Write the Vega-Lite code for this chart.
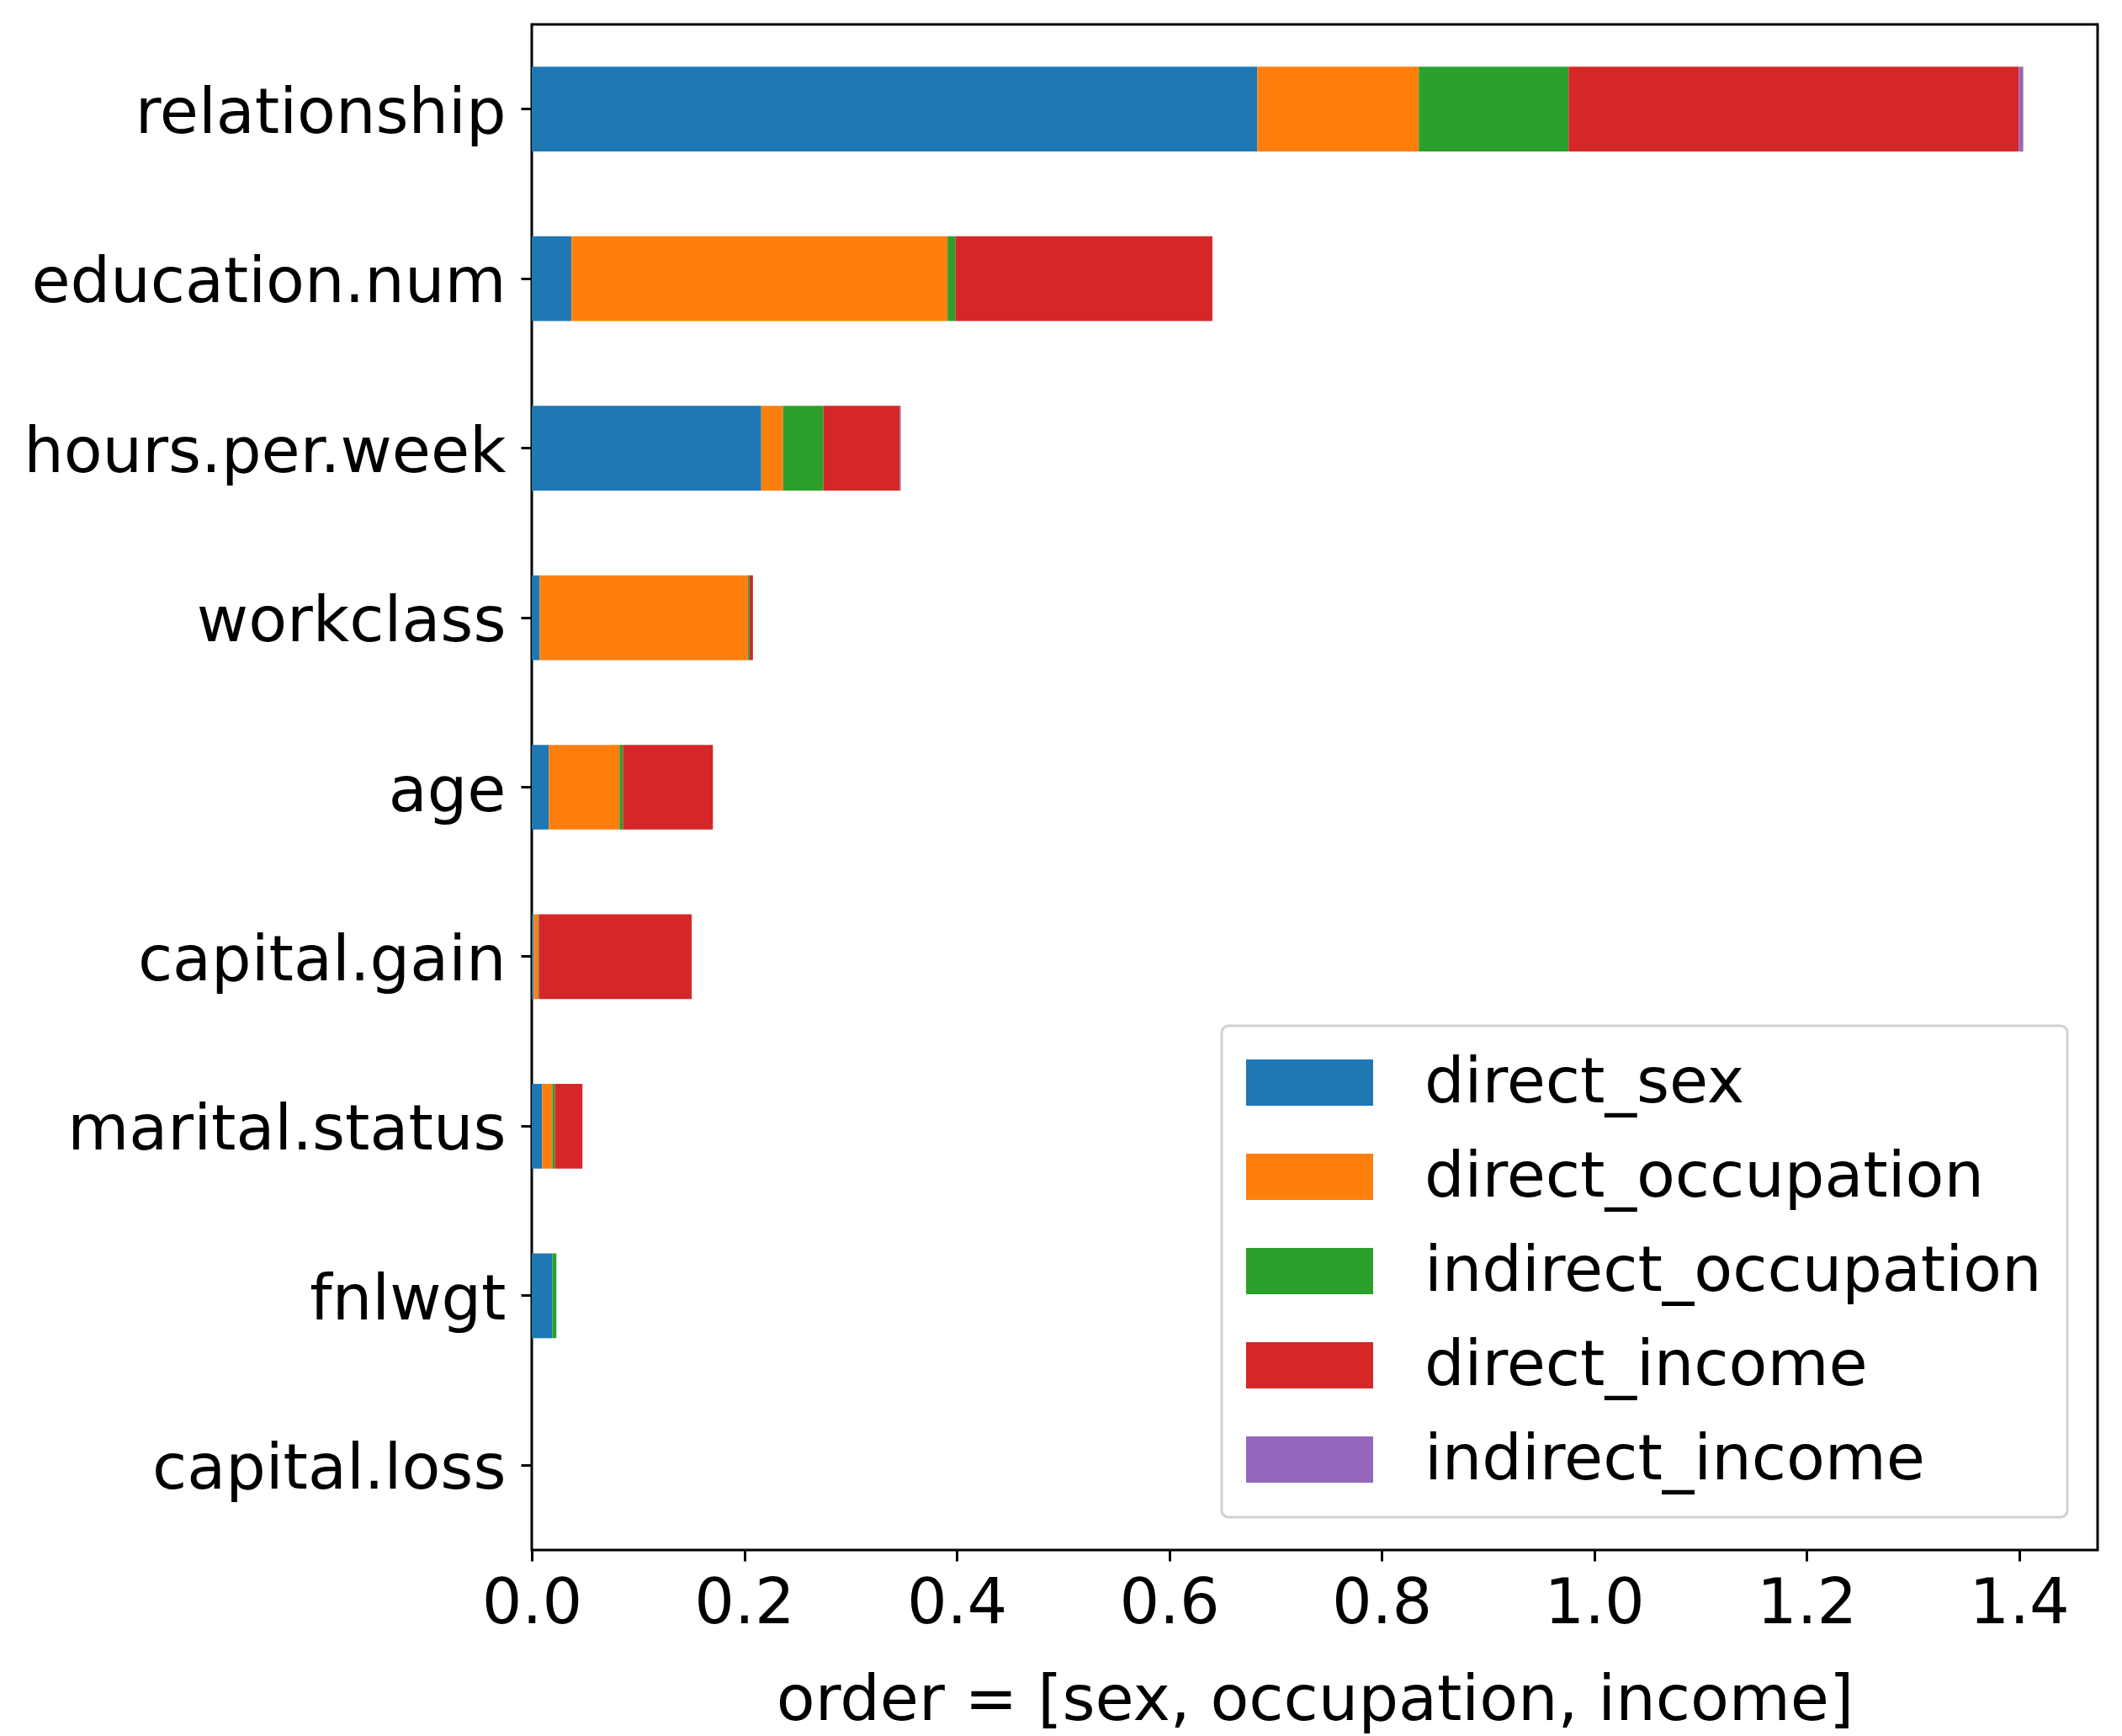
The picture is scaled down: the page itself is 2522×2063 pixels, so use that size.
{
  "$schema": "https://vega.github.io/schema/vega-lite/v6.json",
  "width": 1861,
  "height": 1813,
  "autosize": {"type": "none"},
  "padding": {"left": 632, "top": 29, "right": 29, "bottom": 221},
  "background": "white",
  "config": {
    "font": "DejaVu Sans",
    "view": {"stroke": "black", "strokeWidth": 3},
    "axis": {"grid": false, "domain": false, "tickColor": "black", "tickWidth": 3, "tickSize": 13, "labelColor": "black", "labelFontSize": 75, "labelLimit": 0, "labelFont": "DejaVu Sans", "titleFont": "DejaVu Sans", "titleFontSize": 75, "titleFontWeight": "normal", "titleColor": "black"}
  },
  "data": {"values": [
    {"feature": "relationship", "series": "direct_sex", "k": 0, "value": 0.683},
    {"feature": "relationship", "series": "direct_occupation", "k": 1, "value": 0.152},
    {"feature": "relationship", "series": "indirect_occupation", "k": 2, "value": 0.141},
    {"feature": "relationship", "series": "direct_income", "k": 3, "value": 0.424},
    {"feature": "relationship", "series": "indirect_income", "k": 4, "value": 0.004},
    {"feature": "education.num", "series": "direct_sex", "k": 0, "value": 0.0374},
    {"feature": "education.num", "series": "direct_occupation", "k": 1, "value": 0.354},
    {"feature": "education.num", "series": "indirect_occupation", "k": 2, "value": 0.0073},
    {"feature": "education.num", "series": "direct_income", "k": 3, "value": 0.242},
    {"feature": "education.num", "series": "indirect_income", "k": 4, "value": 0.0},
    {"feature": "hours.per.week", "series": "direct_sex", "k": 0, "value": 0.216},
    {"feature": "hours.per.week", "series": "direct_occupation", "k": 1, "value": 0.0206},
    {"feature": "hours.per.week", "series": "indirect_occupation", "k": 2, "value": 0.038},
    {"feature": "hours.per.week", "series": "direct_income", "k": 3, "value": 0.072},
    {"feature": "hours.per.week", "series": "indirect_income", "k": 4, "value": 0.0008},
    {"feature": "workclass", "series": "direct_sex", "k": 0, "value": 0.0074},
    {"feature": "workclass", "series": "direct_occupation", "k": 1, "value": 0.196},
    {"feature": "workclass", "series": "indirect_occupation", "k": 2, "value": 0.0016},
    {"feature": "workclass", "series": "direct_income", "k": 3, "value": 0.0032},
    {"feature": "workclass", "series": "indirect_income", "k": 4, "value": 0.0},
    {"feature": "age", "series": "direct_sex", "k": 0, "value": 0.0161},
    {"feature": "age", "series": "direct_occupation", "k": 1, "value": 0.0665},
    {"feature": "age", "series": "indirect_occupation", "k": 2, "value": 0.0032},
    {"feature": "age", "series": "direct_income", "k": 3, "value": 0.0847},
    {"feature": "age", "series": "indirect_income", "k": 4, "value": 0.0},
    {"feature": "capital.gain", "series": "direct_sex", "k": 0, "value": 0.0018},
    {"feature": "capital.gain", "series": "direct_occupation", "k": 1, "value": 0.004},
    {"feature": "capital.gain", "series": "indirect_occupation", "k": 2, "value": 0.0008},
    {"feature": "capital.gain", "series": "direct_income", "k": 3, "value": 0.144},
    {"feature": "capital.gain", "series": "indirect_income", "k": 4, "value": 0.0},
    {"feature": "marital.status", "series": "direct_sex", "k": 0, "value": 0.0098},
    {"feature": "marital.status", "series": "direct_occupation", "k": 1, "value": 0.0095},
    {"feature": "marital.status", "series": "indirect_occupation", "k": 2, "value": 0.0024},
    {"feature": "marital.status", "series": "direct_income", "k": 3, "value": 0.026},
    {"feature": "marital.status", "series": "indirect_income", "k": 4, "value": 0.0},
    {"feature": "fnlwgt", "series": "direct_sex", "k": 0, "value": 0.0195},
    {"feature": "fnlwgt", "series": "direct_occupation", "k": 1, "value": 0.0},
    {"feature": "fnlwgt", "series": "indirect_occupation", "k": 2, "value": 0.0037},
    {"feature": "fnlwgt", "series": "direct_income", "k": 3, "value": 0.0},
    {"feature": "fnlwgt", "series": "indirect_income", "k": 4, "value": 0.0},
    {"feature": "capital.loss", "series": "direct_sex", "k": 0, "value": 0.0},
    {"feature": "capital.loss", "series": "direct_occupation", "k": 1, "value": 0.0},
    {"feature": "capital.loss", "series": "indirect_occupation", "k": 2, "value": 0.0},
    {"feature": "capital.loss", "series": "direct_income", "k": 3, "value": 0.0},
    {"feature": "capital.loss", "series": "indirect_income", "k": 4, "value": 0.0}
  ]},
  "mark": {"type": "bar", "strokeWidth": 0},
  "encoding": {
    "y": {
      "field": "feature", "type": "nominal",
      "sort": ["relationship", "education.num", "hours.per.week", "workclass", "age", "capital.gain", "marital.status", "fnlwgt", "capital.loss"],
      "scale": {"paddingInner": 0.5, "paddingOuter": 0.25},
      "axis": {"title": null, "labelPadding": 18, "labelOffset": 5}
    },
    "x": {
      "field": "value", "type": "quantitative", "stack": "zero",
      "scale": {"domain": [0, 1.474], "nice": false, "zero": true},
      "axis": {"title": "order = [sex, occupation, income]", "values": [0, 0.2, 0.4, 0.6, 0.8, 1.0, 1.2, 1.4], "format": ".1f", "labelPadding": 14, "titlePadding": 41, "labelFlush": false}
    },
    "color": {
      "field": "series", "type": "nominal",
      "sort": ["direct_sex", "direct_occupation", "indirect_occupation", "direct_income", "indirect_income"],
      "scale": {"domain": ["direct_sex", "direct_occupation", "indirect_occupation", "direct_income", "indirect_income"], "range": ["#1f77b4", "#ff7f0e", "#2ca02c", "#d62728", "#9467bd"]},
      "legend": {
        "title": null, "orient": "none", "legendX": 820, "legendY": 1190,
        "symbolType": "M-1.4,-1H4.09V1H-1.4Z", "symbolSize": 3025, "symbolStrokeWidth": 0, "symbolOpacity": 1,
        "labelFontSize": 75, "labelFont": "DejaVu Sans", "labelColor": "black", "labelOffset": 136, "labelLimit": 0,
        "padding": 30, "rowPadding": 36, "strokeColor": "#d0d0d0", "cornerRadius": 8, "fillColor": "white",
        "encode": {"legend": {"update": {"strokeWidth": {"value": 3}}}}
      }
    },
    "order": {"field": "k", "type": "quantitative"}
  }
}
